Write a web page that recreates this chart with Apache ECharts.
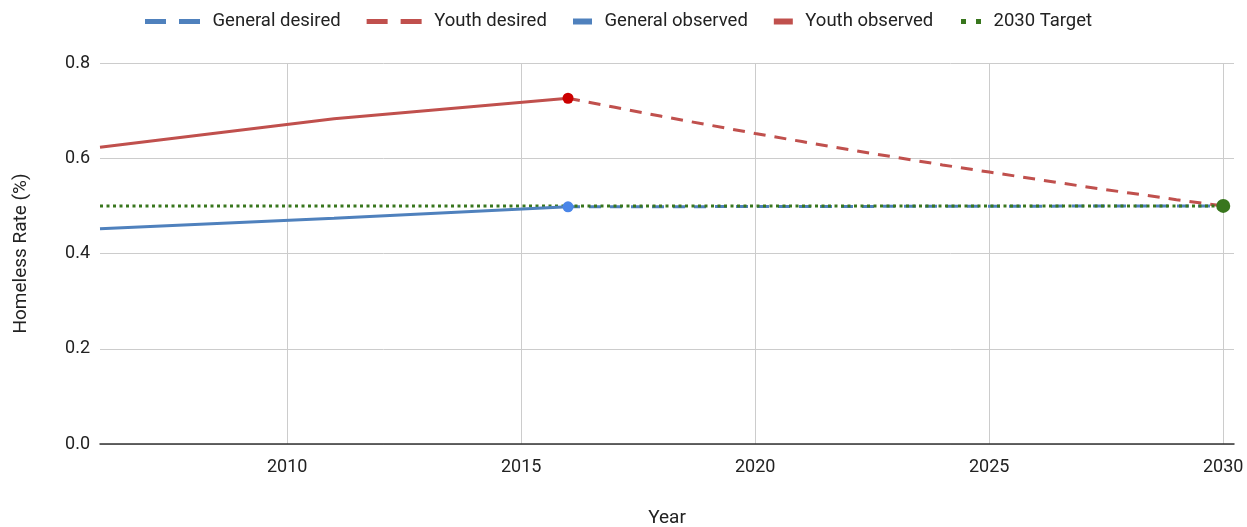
<!DOCTYPE html>
<html>
<head>
<meta charset="utf-8">
<title>Homeless Rate</title>
<script src="https://cdn.jsdelivr.net/npm/echarts@6/dist/echarts.min.js"></script>
<style>
  html, body { margin: 0; padding: 0; background: #ffffff; overflow: hidden; }
  #chart { width: 1247px; height: 527px; }
</style>
</head>
<body>
<div id="chart"></div>
<script>
// Observed history
const observedYears = [2006, 2011, 2016];
const generalObserved = [0.452, 0.474, 0.498];
const youthObserved = [0.623, 0.683, 0.726];

// Desired path toward the 2030 target
const youthDesiredYears = [2016, 2017, 2018, 2019, 2020, 2021, 2022, 2023, 2024, 2025, 2026, 2027, 2028, 2029, 2030];
const youthDesired = [0.726, 0.707, 0.688, 0.670, 0.652, 0.635, 0.618, 0.602, 0.586, 0.571, 0.556, 0.541, 0.527, 0.513, 0.500];
const generalDesiredYears = [2016, 2030];
const generalDesired = [0.498, 0.500];

// Target level
const targetYears = [2006, 2030];
const targetValues = [0.5, 0.5];

// Axis ticks
const xTickYears = [2010, 2015, 2020, 2025, 2030];

const FONT = 'Roboto';
const TEXT = '#222222';
const BLUE = '#4f81bd';
const RED = '#c0504d';
const GREEN = '#38761d';

function pairs(xs, ys) {
  return xs.map((x, i) => [x, ys[i]]);
}

// Only the last point of a series carries a marker
function withEndMarker(xs, ys, color, size) {
  return xs.map((x, i) => {
    if (i === xs.length - 1) {
      return { value: [x, ys[i]], symbol: 'circle', symbolSize: size, itemStyle: { color: color } };
    }
    return { value: [x, ys[i]], symbol: 'none' };
  });
}

const dashIcon = 'path://M0,0h21v5h-21z M34,0h21v5h-21z';
const dotIcon = 'path://M0,0h5v5h-5z M15,0h5v5h-5z';

const legendText = { fontFamily: FONT, fontSize: 18.5, color: TEXT, padding: [0, 0, 0, 7.5] };
const legendBase = {
  top: 12,
  padding: 0,
  itemGap: 26,
  selectedMode: false,
  textStyle: legendText,
  itemStyle: { borderWidth: 0 }
};

const chart = echarts.init(document.getElementById('chart'), null, { renderer: 'canvas' });

chart.setOption({
  animation: false,
  backgroundColor: '#ffffff',
  textStyle: { fontFamily: FONT },
  legend: [
    Object.assign({}, legendBase, {
      left: 145,
      itemWidth: 55,
      itemHeight: 5,
      data: [
        { name: 'General desired', icon: dashIcon, itemStyle: { color: BLUE, borderWidth: 0 } },
        { name: 'Youth desired', icon: dashIcon, itemStyle: { color: RED, borderWidth: 0 } }
      ]
    }),
    Object.assign({}, legendBase, {
      left: 573,
      itemWidth: 19,
      itemHeight: 6,
      data: [
        { name: 'General observed', icon: 'rect', itemStyle: { color: BLUE, borderWidth: 0 } },
        { name: 'Youth observed', icon: 'rect', itemStyle: { color: RED, borderWidth: 0 } }
      ]
    }),
    Object.assign({}, legendBase, {
      left: 961,
      itemWidth: 20,
      itemHeight: 5,
      data: [
        { name: '2030 Target', icon: dotIcon, itemStyle: { color: GREEN, borderWidth: 0 } }
      ]
    })
  ],
  grid: { left: 100, top: 63, width: 1134, height: 381, containLabel: false, outerBoundsMode: 'none' },
  xAxis: {
    type: 'value',
    min: 2006,
    max: 2030.23,
    name: 'Year',
    nameLocation: 'middle',
    nameGap: 65,
    nameTextStyle: { fontFamily: FONT, fontSize: 19, color: TEXT },
    axisLine: { show: true, onZero: true, lineStyle: { color: '#333333', width: 1.5 } },
    axisTick: { show: false, customValues: xTickYears },
    axisLabel: {
      customValues: xTickYears,
      fontFamily: FONT, fontSize: 18, color: TEXT, margin: 14,
      formatter: v => String(v)
    },
    splitLine: { show: true, lineStyle: { color: '#cccccc', width: 1 } }
  },
  yAxis: {
    type: 'value',
    min: 0,
    max: 0.8,
    interval: 0.2,
    name: 'Homeless Rate (%)',
    nameLocation: 'middle',
    nameGap: 69,
    nameRotate: 90,
    nameTextStyle: { fontFamily: FONT, fontSize: 19, color: TEXT },
    axisLine: { show: false },
    axisTick: { show: false },
    axisLabel: {
      fontFamily: FONT, fontSize: 18, color: TEXT, margin: 10,
      formatter: v => v.toFixed(1)
    },
    splitLine: { show: true, lineStyle: { color: '#cccccc', width: 1 } }
  },
  series: [
    {
      name: 'General desired',
      type: 'line',
      data: pairs(generalDesiredYears, generalDesired),
      symbol: 'none',
      color: BLUE,
      lineStyle: { color: BLUE, width: 3, type: [12, 9] },
      z: 2
    },
    {
      name: 'Youth desired',
      type: 'line',
      data: pairs(youthDesiredYears, youthDesired),
      symbol: 'none',
      color: RED,
      lineStyle: { color: RED, width: 3, type: [12, 9] },
      z: 2
    },
    {
      name: 'General observed',
      type: 'line',
      data: withEndMarker(observedYears, generalObserved, '#4a86e8', 11),
      showSymbol: true,
      color: BLUE,
      lineStyle: { color: BLUE, width: 3 },
      z: 4
    },
    {
      name: 'Youth observed',
      type: 'line',
      data: withEndMarker(observedYears, youthObserved, '#cc0000', 11),
      showSymbol: true,
      color: RED,
      lineStyle: { color: RED, width: 3 },
      z: 4
    },
    {
      name: '2030 Target',
      type: 'line',
      data: withEndMarker(targetYears, targetValues, GREEN, 14),
      showSymbol: true,
      color: GREEN,
      lineStyle: { color: GREEN, width: 3, type: [3, 3.5] },
      z: 3
    }
  ]
});
</script>
</body>
</html>
